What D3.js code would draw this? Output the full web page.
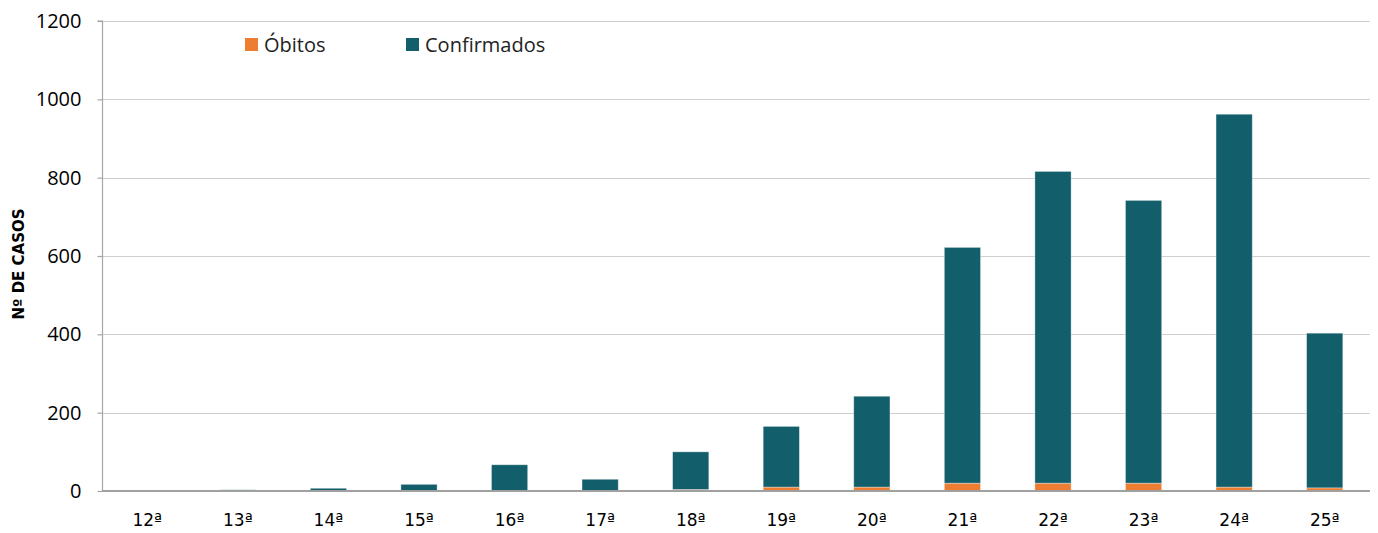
<!DOCTYPE html>
<html>
<head>
<meta charset="utf-8">
<script src="https://cdn.jsdelivr.net/npm/d3@7"></script>
<style>
  html, body { margin: 0; padding: 0; background: #fff; }
  svg { display: block; font-family: "Open Sans", Lato, sans-serif; }
</style>
</head>
<body>
<svg id="chart" width="1378" height="533"></svg>
<script>
// ---- data ----
const categories = ["12ª","13ª","14ª","15ª","16ª","17ª","18ª","19ª","20ª","21ª","22ª","23ª","24ª","25ª"];
const obitos      = [0, 0, 0, 1, 0, 0, 4, 10, 10, 20, 20, 20, 10, 8];
const confirmados = [0, 3, 7, 16, 67, 30, 96, 155, 232, 602, 796, 722, 952, 395];
const yTicks = [0, 200, 400, 600, 800, 1000, 1200];
const seriesNames = ["Óbitos", "Confirmados"];
const seriesColors = ["#ED7D31", "#125F6B"];

// ---- layout ----
const svg = d3.select("#chart");
const margin = { left: 102, right: 8, top: 21, bottom: 42 };
const W = 1378, H = 533;
const x = d3.scaleBand().domain(categories).range([margin.left, W - margin.right]).paddingInner(0.6).paddingOuter(0.3);
const y = d3.scaleLinear().domain([0, 1200]).range([H - margin.bottom, margin.top]);

// gridlines
svg.append("g").selectAll("line").data(yTicks.filter(d => d > 0)).join("line")
  .attr("x1", margin.left).attr("x2", W - margin.right)
  .attr("y1", d => Math.round(y(d)) + 0.5).attr("y2", d => Math.round(y(d)) + 0.5)
  .attr("stroke", "#cfcfcf").attr("stroke-width", 1.2);

// stacked data
const rows = categories.map((c, i) => ({ cat: c, "Óbitos": obitos[i], "Confirmados": confirmados[i] }));
const stack = d3.stack().keys(seriesNames)(rows);

svg.append("g").selectAll("g").data(stack).join("g")
  .attr("fill", (d, i) => seriesColors[i])
  .selectAll("rect").data(d => d.filter(s => s[1] - s[0] > 0)).join("rect")
  .attr("x", d => x(d.data.cat))
  .attr("width", x.bandwidth())
  .attr("y", d => y(d[1]))
  .attr("height", d => y(d[0]) - y(d[1]))
  .attr("stroke", "#ffffff").attr("stroke-opacity", 0.45).attr("stroke-width", 0.8);

// y axis
const yAxis = d3.axisLeft(y).tickValues(yTicks).tickSize(5).tickPadding(16).tickFormat(d3.format("d"));
const gy = svg.append("g").attr("transform", `translate(${margin.left + 0.5},0)`).call(yAxis);
gy.select(".domain").attr("stroke", "#a6a6a6").attr("stroke-width", 1.2).attr("d", `M-5,${y(1200)}H0V${y(0)}`);
gy.selectAll(".tick line").attr("stroke", "#a6a6a6").attr("stroke-width", 1.2);
gy.selectAll(".tick text").attr("font-size", 20).attr("fill", "#000").attr("font-family", "'Open Sans', sans-serif");

// x axis
const xAxis = d3.axisBottom(x).tickSize(0).tickPadding(23);
const gx = svg.append("g").attr("transform", `translate(0,${y(0)})`).call(xAxis);
gx.select(".domain").attr("stroke", "#a0a0a0").attr("stroke-width", 1.8).attr("d", `M${margin.left},0H${W - margin.right}`);
gx.selectAll(".tick text").attr("font-size", 17).attr("fill", "#000").attr("font-family", "'DejaVu Sans', sans-serif");

// y title
svg.append("text")
  .attr("transform", `translate(24,${(y(0) + y(1200)) / 2 + 8}) rotate(-90)`)
  .attr("text-anchor", "middle")
  .attr("font-size", 15).attr("font-weight", "bold").attr("fill", "#000")
  .attr("font-family", "'DejaVu Sans', sans-serif")
  .text("Nº DE CASOS");

// legend
const legendX = [245, 406];
const lg = svg.append("g");
seriesNames.forEach((name, i) => {
  lg.append("rect").attr("x", legendX[i]).attr("y", 38).attr("width", 13).attr("height", 13).attr("fill", seriesColors[i]);
  lg.append("text").attr("x", legendX[i] + 19).attr("y", 51.5).attr("font-size", 20).attr("fill", "#222").text(name);
});
</script>
</body>
</html>
